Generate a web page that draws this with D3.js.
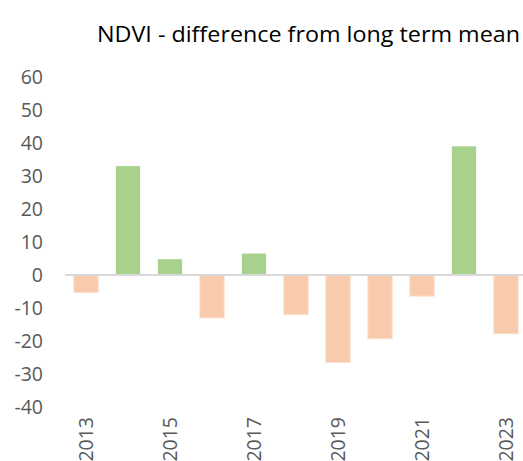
<!DOCTYPE html>
<html><head><meta charset="utf-8">
<script src="https://cdn.jsdelivr.net/npm/d3@7"></script>
<style>body{margin:0;background:#fff;overflow:hidden}</style>
</head><body>
<svg id="c" width="523" height="461"></svg>
<script>
const years = ["2013","2014","2015","2016","2017","2018","2019","2020","2021","2022","2023"];
const values = [-5.3, 33, 4.8, -13, 6.5, -12, -26.5, -19.3, -6.4, 39, -17.8];
const yTicks = [-40,-30,-20,-10,0,10,20,30,40,50,60];
const xLabels = ["2013","2015","2017","2019","2021","2023"];
const title = "NDVI - difference from long term mean";

const svg = d3.select("#c");
const x = d3.scaleBand().domain(years).range([65, 527]).paddingInner(0.42).paddingOuter(0.21);
const y = d3.scaleLinear().domain([-40, 60]).range([407, 77]);

svg.append("text").attr("x", 97).attr("y", 42)
  .attr("font-family", "Open Sans").attr("font-size", 21.5).attr("fill", "#000")
  .attr("textLength", 423).attr("lengthAdjust", "spacingAndGlyphs")
  .text(title);

// y labels
svg.selectAll(".yl").data(yTicks).enter().append("text")
  .attr("x", 43).attr("y", d => y(d)).attr("dy", "0.35em").attr("text-anchor", "end")
  .attr("font-family", "Open Sans").attr("font-size", 19.5).attr("fill", "#595959")
  .text(d => d);

// bars
svg.selectAll(".bar").data(years).enter().append("rect")
  .attr("x", (d) => x(d))
  .attr("width", x.bandwidth())
  .attr("y", (d, i) => y(Math.max(0, values[i])))
  .attr("height", (d, i) => Math.abs(y(values[i]) - y(0)))
  .attr("fill", (d, i) => values[i] >= 0 ? "#A9D18E" : "#F8CBAD")
  .attr("stroke", (d, i) => values[i] >= 0 ? "none" : "#FBE0CE")
  .attr("stroke-width", 1);

// zero axis
svg.append("line").attr("x1", 65).attr("x2", 527).attr("y1", y(0)).attr("y2", y(0))
  .attr("stroke", "#D9D9D9").attr("stroke-width", 2);

// x labels
svg.selectAll(".xl").data(xLabels).enter().append("text")
  .attr("transform", d => `translate(${x(d) + x.bandwidth()/2},417) rotate(-90)`)
  .attr("dy", "0.35em").attr("text-anchor", "end")
  .attr("font-family", "Open Sans").attr("font-size", 19.5).attr("fill", "#595959")
  .text(d => d);
</script>
</body></html>
